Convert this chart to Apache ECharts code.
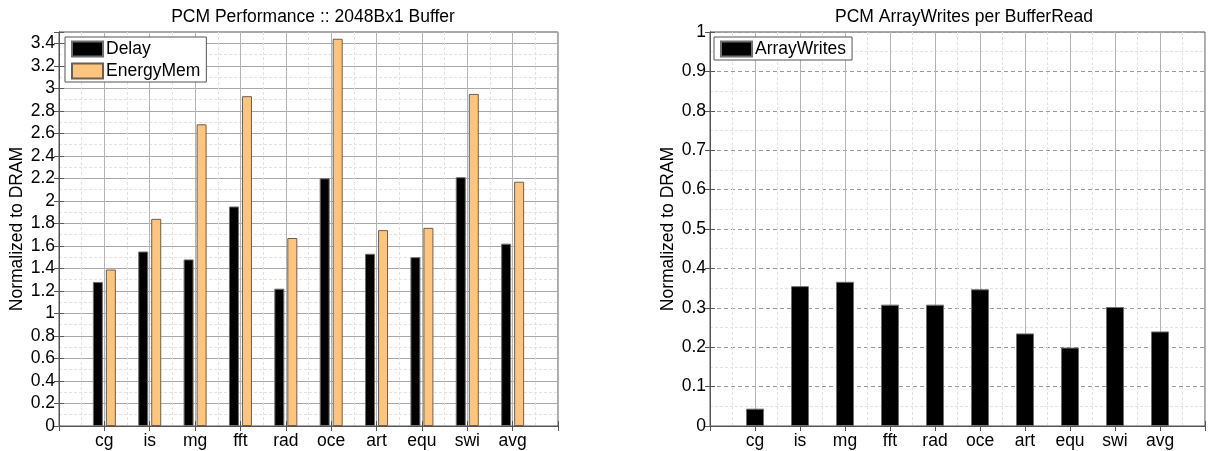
<!DOCTYPE html>
<html>
<head>
<meta charset="utf-8">
<script src="https://cdn.jsdelivr.net/npm/echarts@6/dist/echarts.min.js"></script>
<style>
  html, body { margin: 0; padding: 0; background: #fff; }
  #main { width: 1208px; height: 451px; }
</style>
</head>
<body>
<div id="main"></div>
<script>
// categories (x positions 1..10 on a 0..11 axis, like the matlab plot)
const benchmarks = ['cg', 'is', 'mg', 'fft', 'rad', 'oce', 'art', 'equ', 'swi', 'avg']
// left chart: PCM Performance :: 2048Bx1 Buffer
const delay = [1.28, 1.55, 1.48, 1.95, 1.22, 2.20, 1.53, 1.50, 2.21, 1.62]
const energyMem = [1.39, 1.84, 2.68, 2.93, 1.67, 3.44, 1.74, 1.76, 2.95, 2.17]
// right chart: PCM ArrayWrites per BufferRead
const arrayWrites = [0.044, 0.355, 0.366, 0.308, 0.308, 0.347, 0.235, 0.199, 0.302, 0.240]

const FONT = 'Liberation Sans'
const FS = 17.5
const toPairs = arr => arr.map((v, i) => [i + 1, v])

const grids = [
  { left: 59, top: 32, width: 499, height: 394, show: true, borderColor: '#555', borderWidth: 1 },
  { left: 710, top: 32, width: 498, height: 394, show: true, borderColor: '#555', borderWidth: 1 }
]

function bottomAxis (gi) {
  return {
    type: 'value', gridIndex: gi, position: 'bottom',
    min: 0, max: 11, interval: 1,
    axisLine: { lineStyle: { color: '#555' } },
    axisTick: { inside: true, length: 5, lineStyle: { color: '#555' } },
    axisLabel: {
      color: '#000', fontFamily: FONT, fontSize: FS, margin: 6,
      formatter: v => benchmarks[v - 1] || ''
    },
    splitLine: { show: true, lineStyle: { color: '#b4b4b4', width: 1 } },
    minorTick: { show: false, splitNumber: 2 },
    minorSplitLine: { show: true, lineStyle: { color: '#e2e2e2', type: [3, 2] } }
  }
}
function topAxis (gi) {
  return {
    type: 'value', gridIndex: gi, position: 'top',
    min: 0, max: 11, interval: 1,
    axisLine: { lineStyle: { color: '#555' } },
    axisTick: { inside: true, length: 5, lineStyle: { color: '#555' } },
    axisLabel: { show: false },
    splitLine: { show: false }
  }
}
function leftAxis (gi, max, step, fmt, majorStyle) {
  return {
    type: 'value', gridIndex: gi, position: 'left',
    min: 0, max: max, interval: step,
    name: 'Normalized to DRAM', nameLocation: 'middle', nameGap: 33,
    nameTextStyle: { color: '#000', fontFamily: FONT, fontSize: FS },
    axisLine: { show: true, lineStyle: { color: '#555' } },
    axisTick: { show: true, inside: true, length: 5, lineStyle: { color: '#555' } },
    axisLabel: { color: '#000', fontFamily: FONT, fontSize: FS, margin: 4, formatter: fmt },
    splitLine: { show: true, lineStyle: majorStyle },
    minorTick: { show: false, splitNumber: 2 },
    minorSplitLine: { show: true, lineStyle: { color: '#e2e2e2', type: [3, 2] } }
  }
}
function rightAxis (gi, max, step) {
  return {
    type: 'value', gridIndex: gi, position: 'right',
    min: 0, max: max, interval: step,
    axisLine: { show: true, lineStyle: { color: '#555' } },
    axisTick: { show: true, inside: true, length: 5, lineStyle: { color: '#555' } },
    axisLabel: { show: false },
    splitLine: { show: false }
  }
}

const chart = echarts.init(document.getElementById('main'), null, { renderer: 'canvas' })
chart.setOption({
  animation: false,
  backgroundColor: '#fff',
  textStyle: { fontFamily: FONT },
  title: [
    { text: 'PCM Performance :: 2048Bx1 Buffer', left: 308, top: 3, textAlign: 'center',
      textStyle: { fontFamily: FONT, fontSize: FS, fontWeight: 'normal', color: '#000' } },
    { text: 'PCM ArrayWrites per BufferRead', left: 959, top: 3, textAlign: 'center',
      textStyle: { fontFamily: FONT, fontSize: FS, fontWeight: 'normal', color: '#000' } }
  ],
  legend: [
    { data: ['Delay', 'EnergyMem'], orient: 'vertical', left: 65, top: 37,
      itemWidth: 31, itemHeight: 15, itemGap: 4, padding: [3, 6, 2, 6],
      backgroundColor: '#fff', borderColor: '#555', borderWidth: 1, borderRadius: 0,
      icon: 'rect', textStyle: { fontFamily: FONT, fontSize: FS, color: '#000', padding: [0, 0, 0, -2] } },
    { data: ['ArrayWrites'], orient: 'vertical', left: 714, top: 37,
      itemWidth: 31, itemHeight: 15, padding: [3, 6, 2, 6],
      backgroundColor: '#fff', borderColor: '#555', borderWidth: 1, borderRadius: 0,
      icon: 'rect', textStyle: { fontFamily: FONT, fontSize: FS, color: '#000', padding: [0, 0, 0, -2] } }
  ],
  grid: grids,
  xAxis: [bottomAxis(0), topAxis(0), bottomAxis(1), topAxis(1)],
  yAxis: [
    leftAxis(0, 3.5, 0.2, v => (v > 3.45 ? '' : String(Math.round(v * 10) / 10)),
      { color: '#a8a8a8', width: 1 }),
    rightAxis(0, 3.5, 0.2),
    leftAxis(1, 1, 0.1, v => String(Math.round(v * 10) / 10),
      { color: '#9a9a9a', width: 1, type: [4, 3] }),
    rightAxis(1, 1, 0.1)
  ],
  series: [
    { name: 'Delay', type: 'bar', xAxisIndex: 0, yAxisIndex: 0,
      data: toPairs(delay), barWidth: 10, barGap: '30%',
      itemStyle: { color: '#000', borderColor: '#6e6e6e', borderWidth: 1 } },
    { name: 'EnergyMem', type: 'bar', xAxisIndex: 0, yAxisIndex: 0,
      data: toPairs(energyMem), barWidth: 10, barGap: '30%',
      itemStyle: { color: '#ffc47e', borderColor: '#6b5f52', borderWidth: 1 } },
    { name: 'ArrayWrites', type: 'bar', xAxisIndex: 2, yAxisIndex: 2,
      data: toPairs(arrayWrites), barWidth: 18,
      itemStyle: { color: '#000', borderColor: '#6e6e6e', borderWidth: 1 } }
  ]
})
</script>
</body>
</html>
